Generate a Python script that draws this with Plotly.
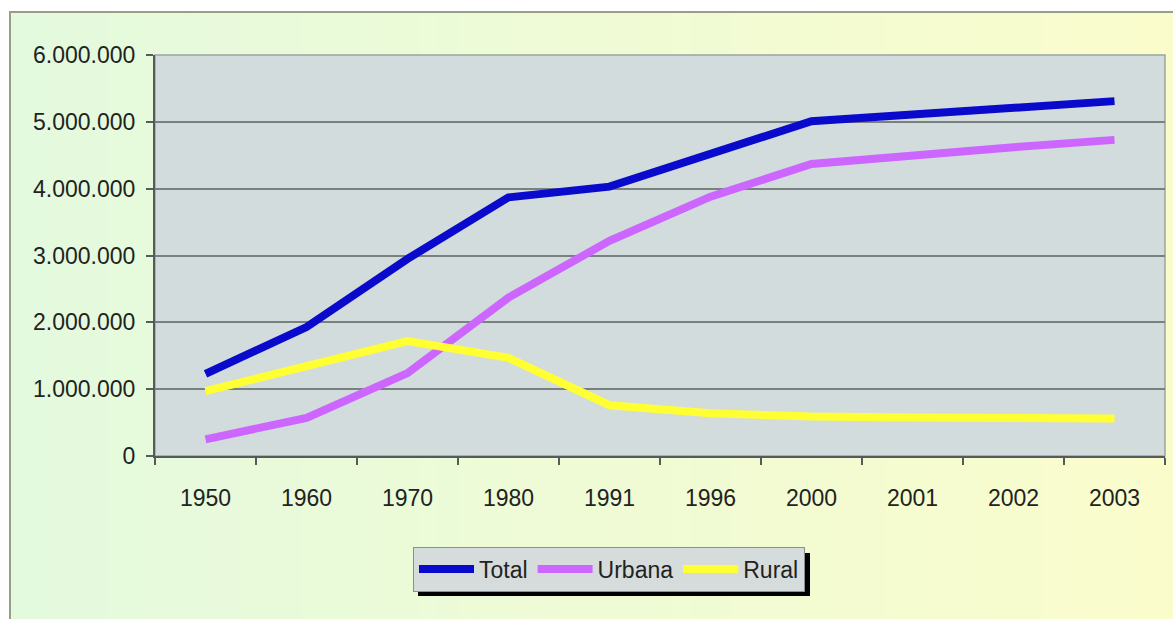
import plotly.graph_objects as go

years = ["1950", "1960", "1970", "1980", "1991", "1996", "2000", "2001", "2002", "2003"]
total = [1230000, 1930000, 2950000, 3870000, 4030000, 4530000, 5010000, 5110000, 5210000, 5310000]
urbana = [250000, 570000, 1240000, 2370000, 3220000, 3880000, 4370000, 4500000, 4620000, 4730000]
rural = [970000, 1350000, 1720000, 1470000, 760000, 640000, 590000, 575000, 565000, 560000]

W, H = 1173, 619
L, R, T, B = 155, 8, 55, 163
PW, PH = W - L - R, H - T - B


def px(x):
    return (x - L) / PW


def py(y):
    return (H - B - y) / PH


fig = go.Figure()
fig.add_trace(go.Scatter(x=years, y=total, name="Total", mode="lines",
                         line=dict(color="#0a0acc", width=8)))
fig.add_trace(go.Scatter(x=years, y=urbana, name="Urbana", mode="lines",
                         line=dict(color="#cc66ff", width=8)))
fig.add_trace(go.Scatter(x=years, y=rural, name="Rural", mode="lines",
                         line=dict(color="#ffff33", width=8)))

shapes = []
# background gradient (left light green -> right light yellow)
c0 = (228, 250, 222)
c1 = (250, 252, 204)
n = 60
x0p, x1p = 10, W + 5
for i in range(n):
    t = i / (n - 1)
    c = tuple(int(round(c0[k] + (c1[k] - c0[k]) * t)) for k in range(3))
    xa = x0p + (x1p - x0p) * i / n
    xb = x0p + (x1p - x0p) * (i + 1) / n + 1
    shapes.append(dict(type="rect", xref="paper", yref="paper", layer="below",
                       x0=px(xa), x1=px(xb), y0=py(12), y1=py(H + 5),
                       fillcolor="rgb(%d,%d,%d)" % c, line=dict(width=0)))
# outer chart border
shapes.append(dict(type="rect", xref="paper", yref="paper", layer="below",
                   x0=px(10), x1=px(W + 20), y0=py(12), y1=py(H + 20),
                   fillcolor="rgba(0,0,0,0)", line=dict(color="#9a9c8c", width=2)))
# plot area fill + light border
shapes.append(dict(type="rect", xref="paper", yref="paper", layer="below",
                   x0=0, x1=1, y0=0, y1=1, fillcolor="#d2dcdc",
                   line=dict(color="#9aa4a0", width=1.5)))
# legend shadow
shapes.append(dict(type="rect", xref="paper", yref="paper", layer="below",
                   x0=px(418), x1=px(810), y0=py(596), y1=py(553),
                   fillcolor="#000000", line=dict(width=0)))

fig.update_layout(
    width=W, height=H, autosize=False,
    margin=dict(l=L, r=R, t=T, b=B, pad=0),
    paper_bgcolor="white",
    plot_bgcolor="rgba(0,0,0,0)",
    separators=",.",
    font=dict(family="Liberation Sans, Arial, sans-serif", size=23, color="#222222"),
    shapes=shapes,
    showlegend=True,
    legend=dict(orientation="h", x=px(609), xanchor="center", y=py(569), yanchor="middle",
                bgcolor="#d6dcdc", bordercolor="#8a8f8f", borderwidth=1,
                font=dict(size=23, color="#222222"), itemwidth=55,
                traceorder="normal"),
    xaxis=dict(type="category", range=[-0.5, 9.5], showline=True, linecolor="#555a5a", linewidth=2,
               ticks="outside", tickson="boundaries", ticklen=7, tickcolor="#555a5a",
               tickwidth=1.5, showgrid=False, ticklabelstandoff=20,
               tickfont=dict(size=23, color="#222222")),
    yaxis=dict(range=[0, 6000000], dtick=1000000, tickformat=",.0f",
               showgrid=True, gridcolor="#788080", gridwidth=2,
               showline=True, linecolor="#555a5a", linewidth=2,
               ticks="outside", ticklen=7, tickcolor="#555a5a", tickwidth=1.5,
               zeroline=False, ticklabelstandoff=6,
               tickfont=dict(size=23, color="#222222")),
)

fig.write_html("out.html", config={"displayModeBar": False},
               post_script="document.body.style.margin='0';document.body.style.overflow='hidden';")
